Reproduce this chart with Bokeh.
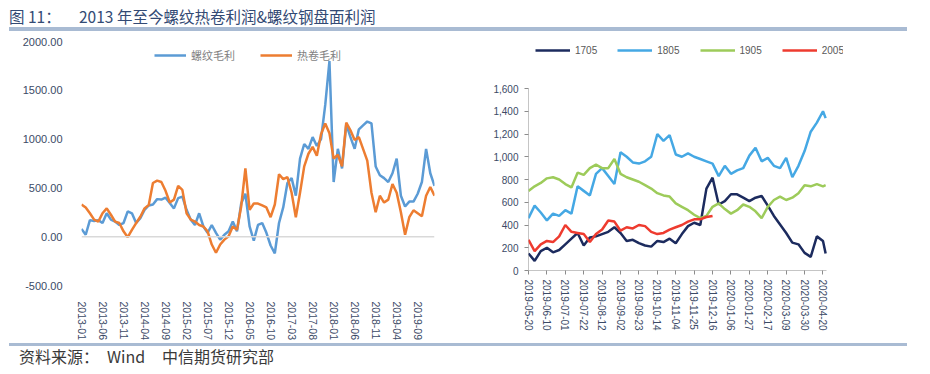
import math
import pandas as pd
from bokeh.plotting import figure
from bokeh.models import (ColumnDataSource, Legend, LegendItem, FixedTicker, Span, Div,
                          NumeralTickFormatter, DatetimeTickFormatter, Range1d)
from bokeh.layouts import column, row
from bokeh.embed import file_html
from bokeh.resources import INLINE

# ---------------- left chart data (monthly, 2013-01 .. 2020-01) ----------------
months = pd.date_range("2013-01-01", periods=85, freq="MS").strftime("%Y-%m").tolist()
rebar_margin = [80, 20, 170, 160, 170, 140, 240, 175, 155, 120,
                140, 260, 240, 140, 190, 275, 320, 330, 385, 380,
                400, 345, 290, 395, 410, 275, 175, 120, 240, 105,
                40, 120, 40, -30, 20, 55, 155, 55, 340, 440,
                105, -40, 120, 140, 40, -90, -170, 140, 300, 550,
                600, 420, 800, 950, 900, 1020, 930, 1000, 1350, 1800,
                560, 900, 700, 1150, 1020, 900, 1100, 1140, 1180, 1160,
                720, 630, 600, 560, 650, 800, 420, 310, 360, 360,
                440, 560, 900, 650, 520]
hrc_margin = [330, 300, 240, 175, 155, 240, 290, 225, 155, 140,
              55, -5, 70, 140, 205, 290, 325, 550, 575, 560,
              470, 350, 380, 520, 480, 240, 175, 155, 120, 105,
              55, -80, -165, -80, -30, 5, 105, 70, 310, 700,
              275, 340, 340, 320, 300, 200, 330, 640, 590, 610,
              450, 200, 450, 720, 850, 920, 830, 1050, 1160, 1060,
              800, 840, 720, 1170, 1090, 990, 1020, 900, 780, 450,
              250, 420, 350, 380, 540, 450, 250, 20, 200, 270,
              240, 210, 420, 510, 420]
left_tick_labels = ["2013-01", "2013-06", "2013-11", "2014-04", "2014-09", "2015-02",
                    "2015-07", "2015-12", "2016-05", "2016-10", "2017-03", "2017-08",
                    "2018-01", "2018-06", "2018-11", "2019-04", "2019-09"]
left_y_ticks = [-500, 0, 500, 1000, 1500, 2000]
left_names = ["螺纹毛利", "热卷毛利"]

# ---------------- right chart data (weekly) ----------------
weeks = pd.date_range("2019-05-20", "2020-04-20", freq="7D").strftime("%Y-%m-%d").tolist() + ["2020-04-23"]
c1705 = [150, 85, 170, 200, 160, 180, 230, 280, 330, 220,
         290, 300, 320, 340, 380, 330, 260, 270, 240, 220,
         210, 260, 250, 280, 240, 320, 390, 420, 400, 720,
         816, 580, 610, 670, 670, 640, 610, 640, 655, 570,
         480, 405, 330, 245, 230, 155, 120, 300, 260, 150]
c1805 = [460, 570, 510, 440, 500, 480, 530, 500, 740, 700,
         660, 850, 900, 830, 760, 1040, 1000, 950, 940, 960,
         1000, 1200, 1140, 1190, 1020, 1000, 1030, 1000, 980, 960,
         940, 830, 920, 850, 880, 900, 1010, 1080, 960, 990,
         920, 900, 990, 820, 920, 1050, 1220, 1300, 1400, 1340]
c1905 = [700, 740, 770, 810, 820, 800, 760, 730, 860, 840,
         900, 930, 900, 900, 980, 850, 820, 800, 780, 750,
         720, 680, 660, 650, 590, 560, 530, 490, 460, 480,
         560, 590, 540, 500, 530, 580, 560, 520, 460, 560,
         620, 650, 620, 640, 680, 750, 740, 760, 740, 750]
c2005 = [270, 170, 230, 260, 250, 300, 400, 340, 330, 320,
         250, 320, 360, 440, 430, 350, 380, 370, 400, 390,
         340, 320, 330, 360, 380, 400, 430, 450, 450, 470, 480]
right_names = ["1705", "1805", "1905", "2005"]
right_tick_labels = ["2019-05-20", "2019-06-10", "2019-07-01", "2019-07-22", "2019-08-12",
                     "2019-09-02", "2019-09-23", "2019-10-14", "2019-11-04", "2019-11-25",
                     "2019-12-16", "2020-01-06", "2020-01-27", "2020-02-17", "2020-03-09",
                     "2020-03-30", "2020-04-20"]
right_axis_end = "2020-04-24"
right_y_ticks = [0, 200, 400, 600, 800, 1000, 1200, 1400, 1600]

TICK_FONT = "Liberation Sans"
CJK = "Noto Sans CJK SC"
LABEL_COLOR = "#3b4a66"
AXIS_COLOR = "#8c8c8c"

# ---------------- left figure ----------------
idx = list(range(len(months)))
src_l = ColumnDataSource(dict(x=idx, month=months, rebar=rebar_margin, hrc=hrc_margin))
p1 = figure(output_backend="svg", toolbar_location=None,
            frame_width=353, frame_height=244,
            min_border_left=81, min_border_right=43, min_border_top=4, min_border_bottom=50,
            x_range=Range1d(0, len(months) - 1),
            y_range=Range1d(min(left_y_ticks), max(left_y_ticks)))
p1.frame_align = False
p1.outline_line_color = None
p1.grid.visible = False
p1.add_layout(Span(location=0, dimension="width", line_color="#D9D9D9", line_width=1.5))
r_reb = p1.line("x", "rebar", source=src_l, line_color="#5B9BD5", line_width=2.5)
r_hrc = p1.line("x", "hrc", source=src_l, line_color="#ED7D31", line_width=2.5)

p1.xaxis.ticker = FixedTicker(ticks=[months.index(l) for l in left_tick_labels])
p1.xaxis.major_label_overrides = {months.index(l): l for l in left_tick_labels}
p1.xaxis.major_label_orientation = -math.pi / 2
p1.xaxis.axis_line_color = None
p1.xaxis.major_tick_line_color = None
p1.xaxis.minor_tick_line_color = None
p1.xaxis.major_label_standoff = 10
p1.xaxis.major_label_text_font = TICK_FONT
p1.xaxis.major_label_text_font_size = "10.5px"
p1.xaxis.major_label_text_color = LABEL_COLOR

p1.yaxis.ticker = FixedTicker(ticks=left_y_ticks)
p1.yaxis.formatter = NumeralTickFormatter(format="0.00")
p1.yaxis.axis_line_color = None
p1.yaxis.major_tick_line_color = None
p1.yaxis.minor_tick_line_color = None
p1.yaxis.major_label_standoff = 13
p1.yaxis.major_label_text_font = TICK_FONT
p1.yaxis.major_label_text_font_size = "11px"
p1.yaxis.major_label_text_color = LABEL_COLOR

leg1 = Legend(items=[LegendItem(label=left_names[0], renderers=[r_reb]),
                     LegendItem(label=left_names[1], renderers=[r_hrc])],
              orientation="horizontal", location=(73, 222),
              glyph_width=32, glyph_height=12, label_height=12,
              label_text_font=CJK, label_text_font_size="11px", label_text_color="#7f7f7f",
              spacing=25, padding=0, margin=0, border_line_color=None,
              background_fill_alpha=0)
p1.add_layout(leg1, "center")

# ---------------- right figure ----------------
# the frame extends above 1,600 and right of the last date to host the legend;
# the axis lines are drawn only over the axis extent, as in the reference
R_FRAME_H, R_AXIS_H = 227, 182
R_FRAME_W, R_AXIS_W = 315, 298
x_start = pd.Timestamp(right_tick_labels[0])
x_axis_end = pd.Timestamp(right_axis_end)
x_frame_end = x_start + (x_axis_end - x_start) * (R_FRAME_W / R_AXIS_W)

src_r = ColumnDataSource(dict(x=pd.to_datetime(weeks), c1705=c1705, c1805=c1805, c1905=c1905))
src_r2 = ColumnDataSource(dict(x=pd.to_datetime(weeks[:len(c2005)]), c2005=c2005))
p2 = figure(output_backend="svg", toolbar_location=None, x_axis_type="datetime",
            frame_width=R_FRAME_W, frame_height=R_FRAME_H,
            min_border_left=51, min_border_right=71, min_border_top=6, min_border_bottom=65,
            x_range=Range1d(x_start, x_frame_end),
            y_range=Range1d(0, max(right_y_ticks) * R_FRAME_H / R_AXIS_H))
p2.frame_align = False
p2.outline_line_color = None
p2.grid.visible = False
p2.segment(x0=[x_start], y0=[min(right_y_ticks)], x1=[x_start], y1=[max(right_y_ticks)],
           line_color=AXIS_COLOR, line_width=1)
p2.segment(x0=[x_start], y0=[min(right_y_ticks)], x1=[x_axis_end], y1=[min(right_y_ticks)],
           line_color=AXIS_COLOR, line_width=1)
r1 = p2.line("x", "c1705", source=src_r, line_color="#1C2B5E", line_width=2.5)
r2 = p2.line("x", "c1805", source=src_r, line_color="#45A8E4", line_width=2.5)
r3 = p2.line("x", "c1905", source=src_r, line_color="#9DCB5A", line_width=2.5)
r4 = p2.line("x", "c2005", source=src_r2, line_color="#EE3B2F", line_width=2.5)

p2.xaxis.ticker = FixedTicker(ticks=[pd.Timestamp(t).value / 1e6 for t in right_tick_labels])
fmt = "%Y-%m-%d"
p2.xaxis.formatter = DatetimeTickFormatter(days=fmt, months=fmt, years=fmt, hours=fmt,
                                           hourmin=fmt, minutes=fmt, minsec=fmt, seconds=fmt,
                                           milliseconds=fmt, microseconds=fmt, context=None)
p2.xaxis.major_label_orientation = -math.pi / 2
p2.xaxis.axis_line_color = None
p2.xaxis.major_tick_line_color = AXIS_COLOR
p2.xaxis.major_tick_in = 0
p2.xaxis.major_tick_out = 4
p2.xaxis.minor_tick_line_color = None
p2.xaxis.major_label_standoff = 5
p2.xaxis.major_label_text_font = TICK_FONT
p2.xaxis.major_label_text_font_size = "10px"
p2.xaxis.major_label_text_color = LABEL_COLOR

p2.yaxis.ticker = FixedTicker(ticks=right_y_ticks)
p2.yaxis.formatter = NumeralTickFormatter(format="0,0")
p2.yaxis.axis_line_color = None
p2.yaxis.major_tick_line_color = AXIS_COLOR
p2.yaxis.major_tick_in = 0
p2.yaxis.major_tick_out = 4
p2.yaxis.minor_tick_line_color = None
p2.yaxis.major_label_standoff = 6
p2.yaxis.major_label_text_font = TICK_FONT
p2.yaxis.major_label_text_font_size = "10px"
p2.yaxis.major_label_text_color = LABEL_COLOR

leg2 = Legend(items=[LegendItem(label=n, renderers=[r]) for n, r in zip(right_names, [r1, r2, r3, r4])],
              orientation="horizontal", location=(7, 214),
              glyph_width=35, glyph_height=12, label_height=12,
              label_text_font=TICK_FONT, label_text_font_size="10px", label_text_color="#595959",
              spacing=20, padding=0, margin=0, border_line_color=None,
              background_fill_alpha=0)
p2.add_layout(leg2, "center")

# ---------------- title and footer ----------------
title_html = (
    "<div style='position:relative;width:914px;height:37px;'>"
    f"<div style=\"position:absolute;left:9px;top:7px;font-family:'{CJK}';font-size:15.5px;"
    "color:#334a74;white-space:nowrap;line-height:18px;\">图 11：</div>"
    f"<div style=\"position:absolute;left:79px;top:7px;font-family:'{CJK}';font-size:15.5px;"
    "color:#334a74;white-space:nowrap;line-height:18px;\">2013 年至今螺纹热卷利润&amp;螺纹钢盘面利润</div>"
    "<div style='position:absolute;left:9px;top:27px;width:898px;height:4px;background:#A9BBD3;'></div>"
    "</div>"
)
footer_html = (
    "<div style='position:relative;width:914px;height:28px;'>"
    "<div style='position:absolute;left:9px;top:0px;width:898px;height:3px;background:#A9BBD3;'></div>"
    f"<div style=\"position:absolute;left:19px;top:4px;font-family:'{CJK}';font-size:16px;"
    "color:#3a3a3a;white-space:nowrap;line-height:18px;\">资料来源：</div>"
    f"<div style=\"position:absolute;left:107px;top:4px;font-family:'{CJK}';font-size:16px;"
    "color:#3a3a3a;white-space:nowrap;line-height:18px;\">Wind</div>"
    f"<div style=\"position:absolute;left:162px;top:4px;font-family:'{CJK}';font-size:16px;"
    "color:#3a3a3a;white-space:nowrap;line-height:18px;\">中信期货研究部</div>"
    "</div>"
)
title_div = Div(text=title_html, width=914, height=37, margin=(0, 0, 0, 0))
footer_div = Div(text=footer_html, width=914, height=28, margin=(0, 0, 0, 0))

layout = column(title_div, row(p1, p2, spacing=0), footer_div, spacing=0)
open("out.html", "w").write(file_html(layout, INLINE))
